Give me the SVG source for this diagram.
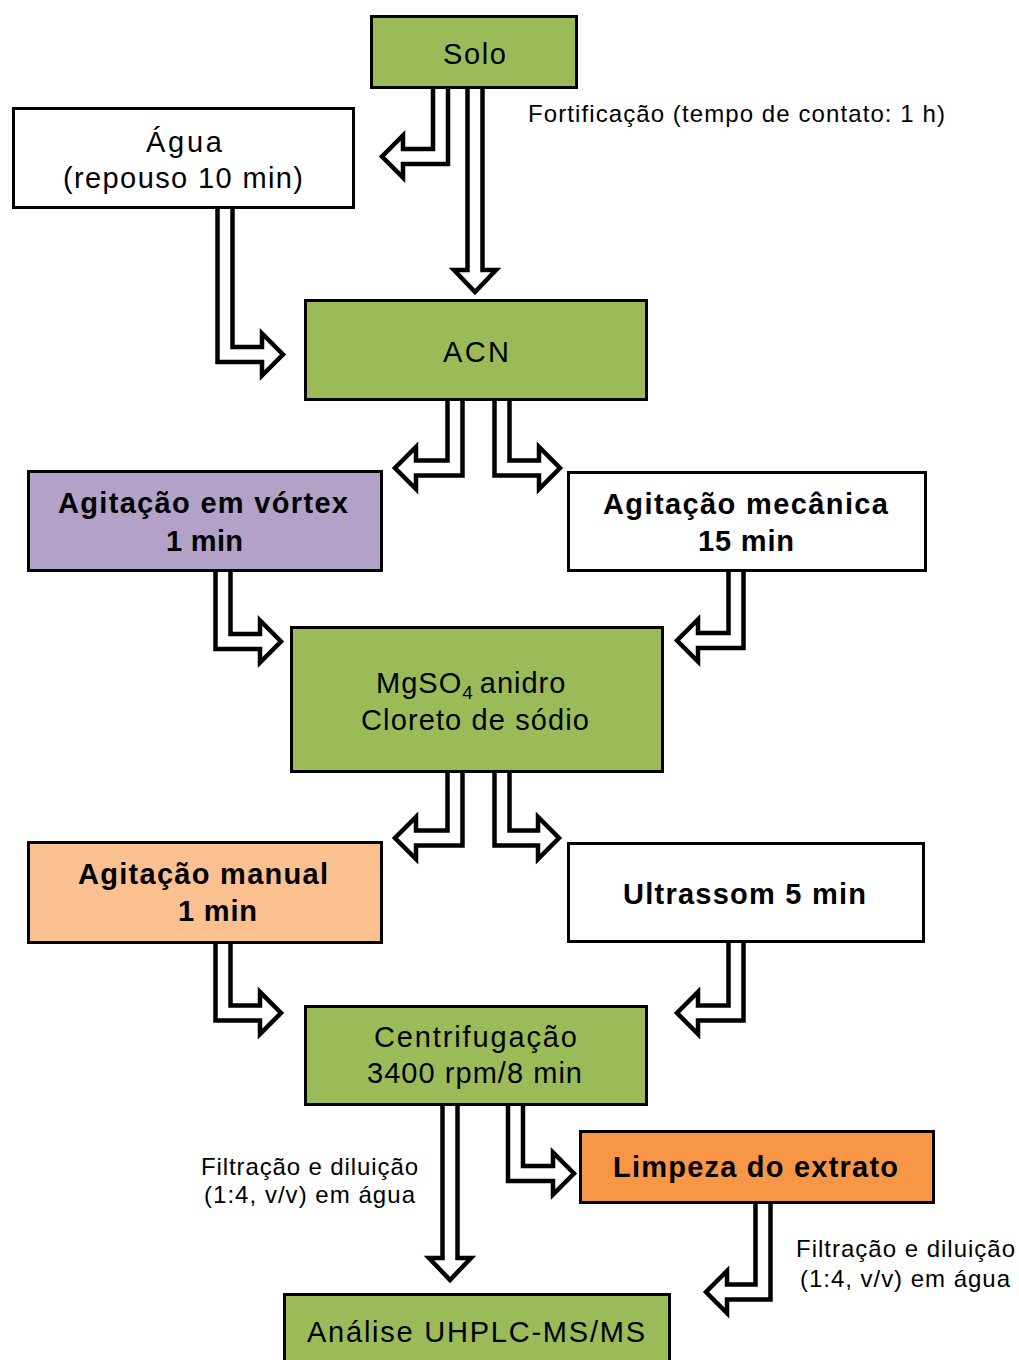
<svg xmlns="http://www.w3.org/2000/svg" width="1019" height="1360" viewBox="0 0 1019 1360">
<style>
.box{stroke:#000;stroke-width:3}
.g{fill:#9BBB59}
.w{fill:#FFFFFF}
.p{fill:#B3A2C7}
.lo{fill:#FAC090}
.o{fill:#F79646}
.arr{fill:#FFFFFF;stroke:#000;stroke-width:4.5;stroke-linejoin:miter;stroke-miterlimit:10}
text{font-family:"Liberation Sans",Arial,sans-serif;fill:#000}
.r{font-size:29px}
.b{font-size:29px;font-weight:bold}
.l{font-size:24px}
</style>
<rect width="1019" height="1360" fill="#FFFFFF"/>
<g id="connectors">
<path class="arr" d="M433,88 V149 H403 V135.5 L382,156.5 L403,177.5 V164 H448 V88"/>
<path class="arr" d="M467.5,88 V270 H454 L475,292 L496,270 H482.5 V88"/>
<path class="arr" d="M217.5,207 V362 H262 V375.5 L283,354.5 L262,333.5 V347 H232.5 V207"/>
<path class="arr" d="M447.5,400 V460.5 H416 V447 L395,468 L416,489 V475.5 H462.5 V400"/>
<path class="arr" d="M509.5,400 V460.5 H539 V447 L560,468 L539,489 V475.5 H494.5 V400"/>
<path class="arr" d="M215.5,572 V649 H260 V662.5 L281,641.5 L260,620.5 V634 H230.5 V572"/>
<path class="arr" d="M728.5,571 V633 H698 V619.5 L677,640.5 L698,661.5 V648 H743.5 V571"/>
<path class="arr" d="M447.5,772 V830.5 H416 V817 L395,838 L416,859 V845.5 H462.5 V772"/>
<path class="arr" d="M509.5,772 V830.5 H538 V817 L559,838 L538,859 V845.5 H494.5 V772"/>
<path class="arr" d="M215.5,943 V1020.5 H260 V1034 L281,1013 L260,992 V1005.5 H230.5 V943"/>
<path class="arr" d="M728.5,942 V1005.5 H698 V992 L677,1013 L698,1034 V1020.5 H743.5 V942"/>
<path class="arr" d="M442.5,1105 V1258 H429 L450,1280 L471,1258 H457.5 V1105"/>
<path class="arr" d="M523,1105 V1166 H553 V1152.5 L574,1173.5 L553,1194.5 V1181 H508 V1105"/>
<path class="arr" d="M755.5,1203 V1284.5 H727 V1271 L706,1292 L727,1313 V1299.5 H770.5 V1203"/>
</g>
<g id="solo">
<rect class="box g" x="371.5" y="16.5" width="205" height="71"/>
<text class="r" x="443" y="64" font-size="30" textLength="63" lengthAdjust="spacing">Solo</text>
</g>
<g id="fortificacao">
<text class="l" x="528" y="122" font-size="24" textLength="417" lengthAdjust="spacing">Fortificação (tempo de contato: 1 h)</text>
</g>
<g id="agua">
<rect class="box w" x="13.5" y="108.5" width="340" height="99"/>
<text class="r" x="146" y="152" font-size="29" textLength="76" lengthAdjust="spacing">Água</text>
<text class="r" x="63" y="188" font-size="29" textLength="240" lengthAdjust="spacing">(repouso 10 min)</text>
</g>
<g id="acn">
<rect class="box g" x="305.5" y="300.5" width="341" height="99"/>
<text class="r" x="443" y="362" font-size="30" textLength="66" lengthAdjust="spacing">ACN</text>
</g>
<g id="vortex">
<rect class="box p" x="28.5" y="471.5" width="353" height="99"/>
<text class="b" x="58" y="513" textLength="290" lengthAdjust="spacing">Agitação em vórtex</text>
<text class="b" x="166" y="551" textLength="77" lengthAdjust="spacing">1 min</text>
</g>
<g id="mecanica">
<rect class="box w" x="568.5" y="472.5" width="357" height="98"/>
<text class="b" x="603" y="514" textLength="285" lengthAdjust="spacing">Agitação mecânica</text>
<text class="b" x="698" y="551" textLength="96" lengthAdjust="spacing">15 min</text>
</g>
<g id="mgso4">
<rect class="box g" x="291.5" y="627.5" width="371" height="144"/>
<text class="r" x="376" y="693" font-size="30" letter-spacing="1">MgSO<tspan font-size="19" dy="6">4</tspan><tspan dy="-6" dx="6">anidro</tspan></text>
<text class="r" x="361" y="730" font-size="30" textLength="228" lengthAdjust="spacing">Cloreto de sódio</text>
</g>
<g id="manual">
<rect class="box lo" x="28.5" y="842.5" width="353" height="100"/>
<text class="b" x="78" y="884" textLength="250" lengthAdjust="spacing">Agitação manual</text>
<text class="b" x="178" y="921" textLength="79" lengthAdjust="spacing">1 min</text>
</g>
<g id="ultrassom">
<rect class="box w" x="568.5" y="843.5" width="355" height="98"/>
<text class="b" x="623" y="904" textLength="243" lengthAdjust="spacing">Ultrassom 5 min</text>
</g>
<g id="centrifugacao">
<rect class="box g" x="305.5" y="1006.5" width="341" height="98"/>
<text class="r" x="374" y="1047" font-size="30" textLength="203" lengthAdjust="spacing">Centrifugação</text>
<text class="r" x="367" y="1083" font-size="30" textLength="215" lengthAdjust="spacing">3400 rpm/8 min</text>
</g>
<g id="limpeza">
<rect class="box o" x="580.5" y="1131.5" width="353" height="71"/>
<text class="b" x="613" y="1177" textLength="285" lengthAdjust="spacing">Limpeza do extrato</text>
</g>
<g id="label-left">
<text class="l" x="201" y="1175" textLength="217" lengthAdjust="spacing">Filtração e diluição</text>
<text class="l" x="204" y="1203" textLength="211" lengthAdjust="spacing">(1:4, v/v) em água</text>
</g>
<g id="label-right">
<text class="l" x="796" y="1257" textLength="219" lengthAdjust="spacing">Filtração e diluição</text>
<text class="l" x="800" y="1287" textLength="210" lengthAdjust="spacing">(1:4, v/v) em água</text>
</g>
<g id="analise">
<rect class="box g" x="284.5" y="1294.5" width="385" height="80"/>
<text class="r" x="307" y="1342" font-size="30" textLength="338" lengthAdjust="spacing">Análise UHPLC-MS/MS</text>
</g>
</svg>
